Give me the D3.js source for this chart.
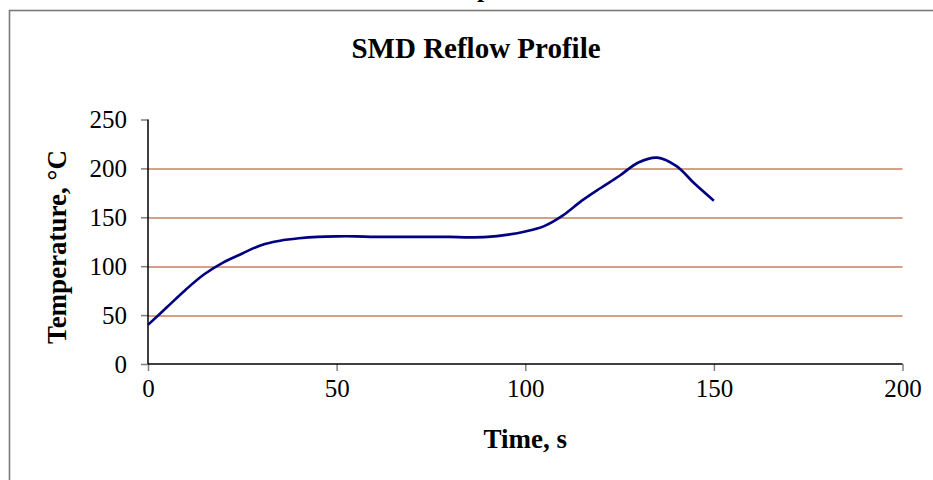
<!DOCTYPE html>
<html>
<head>
<meta charset="utf-8">
<script src="https://d3js.org/d3.v7.min.js"></script>
<style>
  body { margin: 0; background: #fff; }
  svg { display: block; font-family: "Liberation Serif", "Times New Roman", serif; }
</style>
</head>
<body>
<svg></svg>
<script>
// reflow profile readings (time in s, temperature in C)
var times = [0, 5, 10, 15, 20, 25, 30, 35, 40, 45, 50, 55, 60, 65, 70, 75, 80, 85, 90, 95, 100, 105, 110, 115, 120, 125, 130, 135, 140, 145, 150];
var temps = [40, 58, 76, 92, 104, 113, 121.5, 126, 128.5, 130, 130.5, 130.5, 130, 130, 130, 130, 130, 129.5, 130, 132, 135.5, 141, 152, 167, 180, 192.5, 206, 211, 202.5, 184, 167];

var xTicks = [0, 50, 100, 150, 200];
var yTicks = [0, 50, 100, 150, 200, 250];
var gridTicks = [50, 100, 150, 200];

var margin = {
  top: 119.5,
  right: 30.5,
  bottom: 116,
  left: 148
}

var width = 933 - margin.left - margin.right;
var height = 480 - margin.top - margin.bottom;

var points = times.map((t, i) => ({t: t, v: temps[i]}));

var xScale = d3.scaleLinear()
  .domain([0, 200])
  .range([0, width]);

var yScale = d3.scaleLinear()
  .domain([0, 250])
  .range([height, 0]);

var svg = d3.select('svg')
  .attr('width', 933)
  .attr('height', 480);

// outer chart border (runs off the right and bottom of the picture)
svg.append('rect')
  .attr('x', 9.5)
  .attr('y', 10.5)
  .attr('width', 940)
  .attr('height', 500)
  .style('fill', 'none')
  .style('stroke', '#7a7a7a')
  .style('stroke-width', 1.6);

// bit of the caption above, cut off by the crop
svg.append('text')
  .attr('x', 477)
  .attr('y', -3.5)
  .style('font-size', '26px')
  .style('font-weight', 'bold')
  .text('p');

/*TITLE*/
svg.append('text')
  .attr('x', 476)
  .attr('y', 58)
  .attr('text-anchor', 'middle')
  .style('font-size', '29px')
  .style('font-weight', 'bold')
  .text('SMD Reflow Profile');

var g = svg.append('g')
  .attr('transform', 'translate(' + margin.left + ',' + margin.top + ')');

// horizontal gridlines
g.selectAll('.grid')
  .data(gridTicks)
  .enter()
  .append('line')
    .attr('class', 'grid')
    .attr('x1', 0)
    .attr('x2', width)
    .attr('y1', d => Math.round(yScale(d)) + 0.5)
    .attr('y2', d => Math.round(yScale(d)) + 0.5)
    .style('stroke', '#c7805c')
    .style('stroke-width', 1.3);

// y axis
var yAxis = d3.axisLeft(yScale)
  .tickValues(yTicks)
  .tickSize(7)
  .tickPadding(14)
  .tickFormat(d3.format('d'));

var yG = g.append('g').call(yAxis);
yG.select('.domain').remove();
yG.selectAll('.tick line').style('stroke', '#808080').style('stroke-width', 1.5);
yG.selectAll('.tick text')
  .style('font-size', '25px')
  .style('font-family', '"Liberation Serif", "Times New Roman", serif')
  .attr('fill', '#000');

// x axis
var xAxis = d3.axisBottom(xScale)
  .tickValues(xTicks)
  .tickSize(7)
  .tickPadding(8)
  .tickFormat(d3.format('d'));

var xG = g.append('g')
  .attr('transform', 'translate(0,' + height + ')')
  .call(xAxis);
xG.select('.domain').remove();
xG.selectAll('.tick line').style('stroke', '#808080').style('stroke-width', 1.5);
xG.selectAll('.tick text')
  .style('font-size', '25px')
  .style('font-family', '"Liberation Serif", "Times New Roman", serif')
  .attr('fill', '#000');

// axis lines drawn in black on top of ticks
g.append('line')
  .attr('x1', 0).attr('x2', 0)
  .attr('y1', 0).attr('y2', height)
  .style('stroke', '#000')
  .style('stroke-width', 1.5);
g.append('line')
  .attr('x1', 0).attr('x2', width)
  .attr('y1', height).attr('y2', height)
  .style('stroke', '#000')
  .style('stroke-width', 1.5);

// the profile curve
var line = d3.line()
  .x(d => xScale(d.t))
  .y(d => yScale(d.v))
  .curve(d3.curveCatmullRom.alpha(0.5));

g.append('path')
  .datum(points)
  .attr('d', line)
  .style('fill', 'none')
  .style('stroke', '#000080')
  .style('stroke-width', 2.6);

// axis titles
svg.append('text')
  .attr('transform', 'translate(57,247) rotate(-90)')
  .attr('text-anchor', 'middle')
  .attr('dominant-baseline', 'central')
  .style('font-size', '27px')
  .style('font-weight', 'bold')
  .text('Temperature, °C');

svg.append('text')
  .attr('x', margin.left + width / 2)
  .attr('y', 448)
  .attr('text-anchor', 'middle')
  .style('font-size', '27px')
  .style('font-weight', 'bold')
  .text('Time, s');
</script>
</body>
</html>
